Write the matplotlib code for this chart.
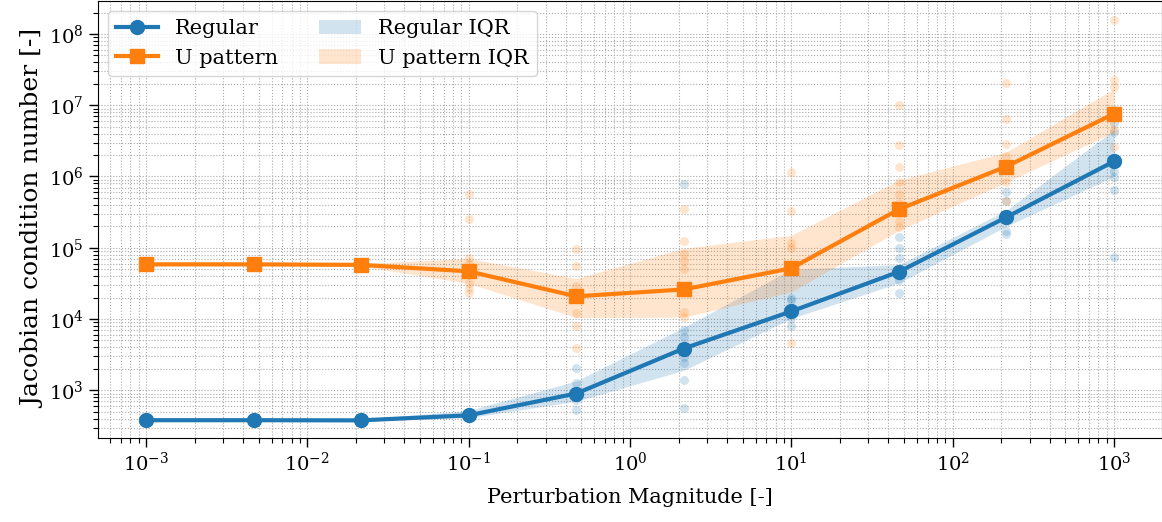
import numpy as np
import matplotlib
matplotlib.use("Agg")
import matplotlib.pyplot as plt
from matplotlib.ticker import LogLocator, NullFormatter

plt.rcParams["font.family"] = "DejaVu Serif"
plt.rcParams["mathtext.fontset"] = "dejavuserif"

# Perturbation magnitudes (10 log-spaced levels)
magnitudes = [1e-3, 4.64e-3, 2.15e-2, 1e-1, 4.64e-1, 2.15, 10.0, 46.4, 215.0, 1000.0]

# Median Jacobian condition numbers
regular_median = [380, 380, 378, 445, 900, 3850, 12800, 46000, 268000, 1.63e6]
upattern_median = [58500, 58500, 57500, 46700, 20800, 26000, 51500, 346000, 1.38e6, 7.6e6]

# Interquartile ranges
regular_q1 = [372, 372, 370, 410, 700, 1900, 10200, 32000, 200000, 1.0e6]
regular_q3 = [392, 392, 390, 520, 1350, 7600, 50000, 58000, 335000, 4.5e6]
upattern_q1 = [56000, 56000, 55000, 31600, 10500, 10600, 24000, 175000, 830000, 4.2e6]
upattern_q3 = [61000, 61000, 60000, 71000, 37000, 98000, 150000, 890000, 2.2e6, 1.7e7]

# Individual samples per magnitude level
regular_samples = [
    [375, 385],
    [375, 385],
    [372, 383],
    [420, 470, 500],
    [2040, 1260, 720, 525],
    [7.9e5, 6900, 5600, 2950, 2400, 1380, 560],
    [20000, 18200, 10200, 8100],
    [141000, 98000, 71000, 35000, 23400],
    [6.0e5, 4.6e5, 1.74e5, 1.58e5],
    [8.5e6, 5.7e6, 4.2e6, 1.2e6, 9.8e5, 6.5e5, 74000],
]
upattern_samples = [
    [57000, 60000],
    [57000, 60000],
    [56000, 59000],
    [5.75e5, 2.57e5, 71000, 60000, 31600, 27000, 23000],
    [95000, 56000, 29500, 20400, 12000, 8100, 3900],
    [3.5e5, 1.23e5, 83000, 66000, 51000, 12600, 10700],
    [1.15e6, 3.3e5, 1.15e5, 1.0e5, 4600],
    [1.0e7, 2.75e6, 1.38e6, 8.3e5, 5.75e5, 4.2e5, 2.4e5, 1.95e5],
    [2.05e7, 6.5e6, 2.9e6, 1.95e6, 8.3e5, 4.6e5],
    [1.55e8, 2.25e7, 1.78e7, 4.5e6, 2.6e6],
]

blue = "#1f77b4"
orange = "#ff7f0e"

fig = plt.figure(figsize=(11.62, 5.22), dpi=100)
W, H = 1162.0, 522.0
ax = fig.add_axes([97.6 / W, (H - 438.0) / H, (1162.4 - 97.6) / W, 437.5 / H])

for xv, ys in zip(magnitudes, regular_samples):
    ax.plot([xv] * len(ys), ys, "o", color=blue, alpha=0.2, ms=6.5, mew=0, zorder=2)
for xv, ys in zip(magnitudes, upattern_samples):
    ax.plot([xv] * len(ys), ys, "o", color=orange, alpha=0.2, ms=6.5, mew=0, zorder=2)

f_reg = ax.fill_between(magnitudes, regular_q1, regular_q3, color=blue, alpha=0.2,
                        lw=0, label="Regular IQR", zorder=3)
f_up = ax.fill_between(magnitudes, upattern_q1, upattern_q3, color=orange, alpha=0.2,
                       lw=0, label="U pattern IQR", zorder=3)
l_reg, = ax.plot(magnitudes, regular_median, "-o", color=blue, lw=3, ms=10,
                 label="Regular", zorder=4)
l_up, = ax.plot(magnitudes, upattern_median, "-s", color=orange, lw=3, ms=10,
                label="U pattern", zorder=4)

ax.set_xscale("log")
ax.set_yscale("log")
ax.set_xlim(10 ** -3.3, 10 ** 3.3)
ax.set_ylim(10 ** 2.33, 10 ** 8.47)

ax.grid(True, which="both", ls=":", color="#aaaaaa", lw=0.8)
ax.set_axisbelow(True)

ax.tick_params(which="major", length=6.5, width=1.0, labelsize=14)
ax.tick_params(which="minor", length=3.5, width=0.8)
ax.yaxis.set_minor_locator(LogLocator(base=10, subs=np.arange(2, 10), numticks=20))
ax.xaxis.set_minor_locator(LogLocator(base=10, subs=np.arange(2, 10), numticks=20))
ax.yaxis.set_minor_formatter(NullFormatter())
ax.xaxis.set_minor_formatter(NullFormatter())

ax.set_xlabel("Perturbation Magnitude [-]", fontsize=15, labelpad=9)
ax.set_ylabel("Jacobian condition number [-]", fontsize=18, labelpad=2.5)

ax.legend(handles=[l_reg, l_up, f_reg, f_up], ncol=2, loc="upper left",
          fontsize=15, borderaxespad=0.5)

fig.savefig("out.png", dpi=100)
